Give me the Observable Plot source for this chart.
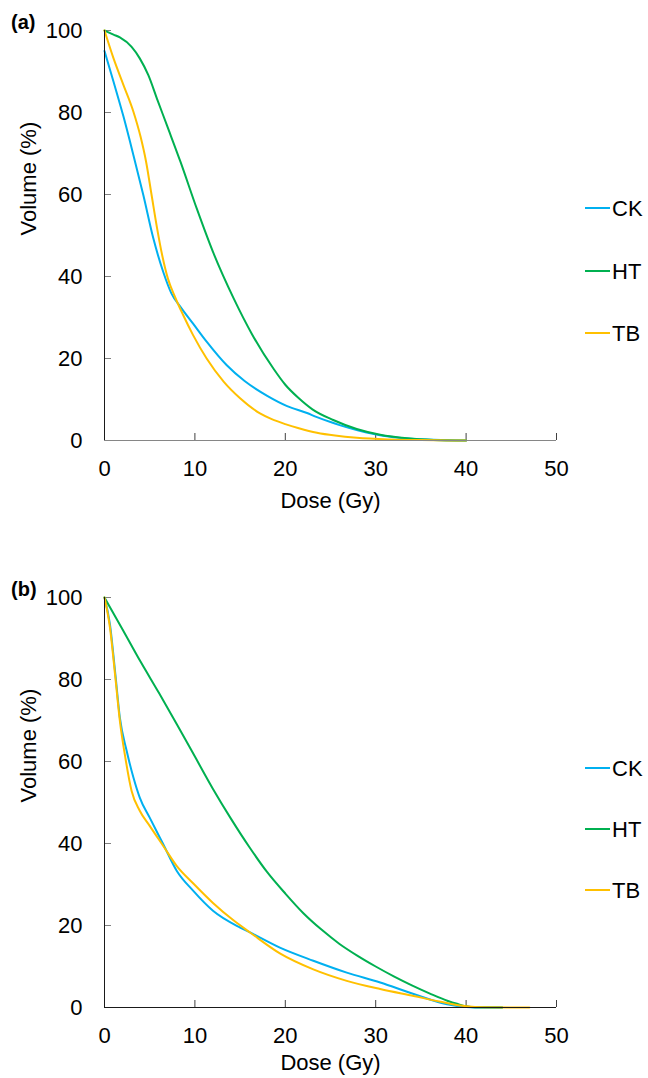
<!DOCTYPE html>
<html><head><meta charset="utf-8">
<script src="https://cdn.jsdelivr.net/npm/d3@7"></script>
<script src="https://cdn.jsdelivr.net/npm/@observablehq/plot@0.6"></script>
<style>
body{margin:0;background:#fff;}
#wrap{position:relative;width:648px;height:1078px;overflow:hidden;background:#fff;font-family:"Liberation Sans",Arial,sans-serif;}
.panel{position:absolute;left:0;width:648px;height:520px;}
.panel svg{position:absolute;left:0;top:0;}
</style></head><body><div id="wrap"></div>
<script>
const series = ["CK", "HT", "TB"];
const colors = ["#00B0F0", "#00B050", "#FFC000"];
const xTicks = [0, 10, 20, 30, 40, 50];
const yTicks = [0, 20, 40, 60, 80, 100];
const xTitle = "Dose (Gy)";
const yTitle = "Volume (%)";

// Panel (a): [dose, volume]
const a_CK = [[0,95],[1,87.5],[2.1,79],[3.2,69.6],[4.3,59.8],[5.4,49.3],[6.5,41.1],[7.4,35.9],[8.4,32.6],[9.8,28.5],[11.3,24.1],[13.5,18.4],[15.5,14.5],[18,10.9],[20.2,8.4],[22.4,6.7],[23.5,5.7],[25,4.5],[26.1,3.7],[28,2.5],[29.8,1.6],[31.6,0.9],[33.5,0.5],[35.5,0.25],[37.2,0.1],[40,0]];
const a_HT = [[0,100],[1,99],[1.7,98.3],[3,96],[3.9,93.2],[4.85,89.1],[5.8,83.4],[6.9,76.9],[8.4,68],[10.2,56.6],[12,46],[14.3,34.6],[16.3,26],[18.7,17.5],[20,13.6],[21.5,10.3],[23,7.6],[25.3,5.0],[27.9,2.8],[30.5,1.4],[33.5,0.55],[36.4,0.15],[40,0]];
const a_TB = [[0,100],[1,93.2],[2.1,86.7],[3.2,80.2],[4,74],[4.6,68],[5.2,60],[5.8,52],[6.4,45],[7,39.6],[7.8,35],[8.7,30.6],[9.8,25.7],[11.3,20],[13.2,14.3],[15,10.3],[17.2,6.6],[18.5,5.2],[20,4.0],[21.5,3.0],[23.5,1.9],[25.5,1.2],[27.9,0.65],[31.6,0.25],[35,0.1],[40,0]];

// Panel (b): [dose, volume]
const b_CK = [[0,100],[0.6,93.5],[1.2,81.3],[1.7,70.7],[2.45,62.6],[3.2,56.1],[3.9,51.2],[5,46.3],[6.5,39.8],[8,33.3],[9.8,28.5],[12,23.6],[15,19.5],[16.1,18.3],[19.4,14.6],[23.1,11.4],[26.8,8.5],[30.5,6.1],[34.2,3.3],[37.9,0.8],[40,0.15],[42,0],[44,0]];
const b_HT = [[0,100],[2,92.2],[4,84.3],[6,76.8],[8,69.1],[10,61.2],[12,53.3],[14,46],[16,39.2],[18,33],[20,27.8],[22,23],[24,19],[26,15.5],[28,12.6],[30,10],[32,7.6],[34,5.4],[36,3.4],[38,1.6],[39,0.9],[40,0.3],[41,0.05],[44,0]];
const b_TB = [[0,100],[0.6,92.7],[1.2,80.5],[1.7,69.9],[2.3,61],[3,52.8],[3.9,48],[5,44.3],[6.5,39.4],[8,34.5],[9.8,30.3],[12,25.5],[14.3,21.2],[16.1,18.3],[19.4,13.2],[23.1,9.3],[26.8,6.5],[30.5,4.5],[34.2,2.8],[37.2,1.4],[40,0.3],[42,0.05],[47,0]];

const FONT = "'Liberation Sans', Arial, sans-serif";
const W = 648, H = 520, ML = 104, MR = 92, MT = 30, MB = 80;
const frameW = W - ML - MR, frameH = H - MT - MB;

function panel(tag, curves, top, xAxisColor, legendY, titleDy) {
  const rows = series.flatMap((s, i) => curves[i].map(([d, v]) => ({series: s, dose: d, volume: v})));
  const chart = Plot.plot({
    width: W, height: H,
    marginLeft: ML, marginRight: MR, marginTop: MT, marginBottom: MB,
    x: {domain: [0, 50], label: null},
    y: {domain: [0, 100], label: null},
    color: {domain: series, range: colors},
    style: {fontFamily: FONT, fontSize: "22px", color: "#000", background: "transparent", overflow: "visible"},
    marks: [
      Plot.axisY(yTicks, {tickSize: 0, tickPadding: 22, fontSize: 22, label: null, fill: "#000"}),
      Plot.axisX(xTicks, {tickSize: 0, tickPadding: 20, fontSize: 22, label: null, fill: "#000"}),
      Plot.tickY(yTicks, {y: d => d, stroke: "#808080", insetRight: frameW - 7}),
      Plot.tickX(xTicks.slice(1), {x: d => d, stroke: "#404040", insetTop: frameH - 7}),
      Plot.line(rows, {x: "dose", y: "volume", z: "series", stroke: "series", strokeWidth: 2, curve: "monotone-x"}),
      Plot.ruleY([0], {stroke: xAxisColor}),
      Plot.ruleX([0], {stroke: "#1a1a1a"}),
      Plot.text([xTitle], {frameAnchor: "bottom", dy: titleDy, fontSize: 22, fill: "#000", lineAnchor: "middle"}),
      Plot.text([yTitle], {frameAnchor: "left", dx: -76, rotate: -90, fontSize: 22, fill: "#000", lineAnchor: "middle"})
    ]
  });
  const div = d3.select("#wrap").append("div").attr("class", "panel").style("top", top + "px");
  div.node().appendChild(chart);
  const ov = div.append("svg").attr("width", W).attr("height", H).style("overflow", "visible")
    .attr("font-family", FONT);
  ov.append("text").attr("x", 11).attr("y", 29).attr("font-size", 20).attr("font-weight", "bold").text(tag);
  series.forEach((s, i) => {
    ov.append("line").attr("x1", 585).attr("x2", 610).attr("y1", legendY[i]).attr("y2", legendY[i])
      .attr("stroke", colors[i]).attr("stroke-width", 2);
    ov.append("text").attr("x", 612).attr("y", legendY[i] + 8).attr("font-size", 22).text(s);
  });
}

panel("(a)", [a_CK, a_HT, a_TB], 0, "#868686", [208, 271, 333], 60);
panel("(b)", [b_CK, b_HT, b_TB], 567, "#1a1a1a", [201, 262, 323], 55);
</script></body></html>
